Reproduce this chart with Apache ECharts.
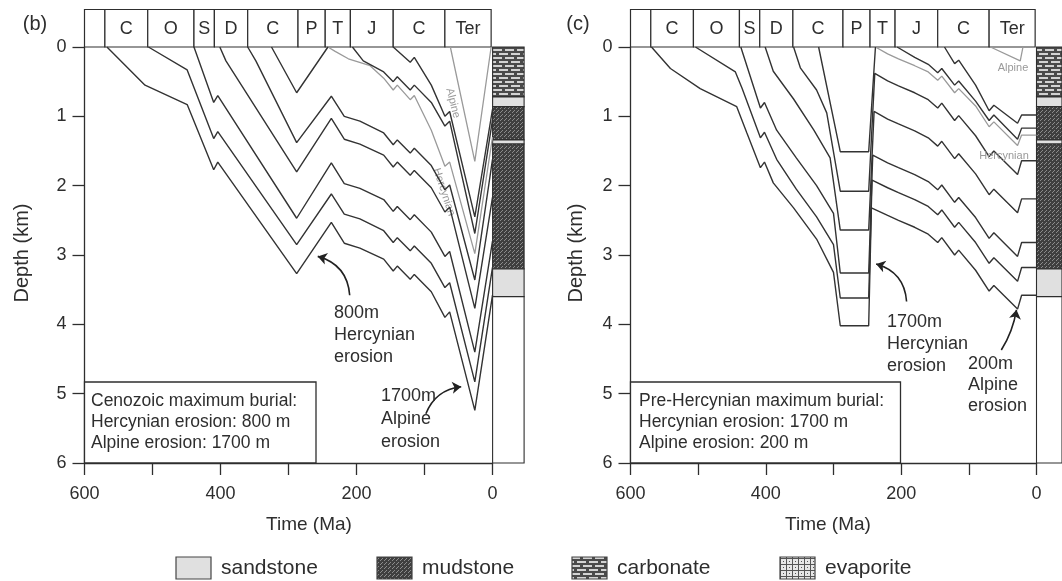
<!DOCTYPE html>
<html><head><meta charset="utf-8">
<script src="https://cdn.jsdelivr.net/npm/echarts@6/dist/echarts.min.js"></script>
<style>html,body{margin:0;padding:0;background:#fff}#c{width:1062px;height:581px}</style>
</head><body><div id="c"></div>
<script>
// ---------- data ----------
const periodBounds = [600, 570, 507, 439, 409, 360, 286, 246, 209, 146, 70, 2];
const periodNames = ['', 'C', 'O', 'S', 'D', 'C', 'P', 'T', 'J', 'C', 'Ter'];
const columnTop  = [0, 0.72, 0.86, 1.34, 1.40, 3.20, 3.60];
const columnBase = [0.72, 0.86, 1.34, 1.40, 3.20, 3.60, 6];
const columnLith = ['carbonate', 'sandstone', 'mudstone', 'sandstone', 'mudstone', 'sandstone', 'blank'];
const timeLabels = [0, 200, 400, 600];
const legendNames = ['sandstone', 'mudstone', 'carbonate', 'evaporite'];

// panel (b): Cenozoic maximum burial  [Ma, km]
const bA = [[567,0],[511,0.55],[449,0.83],[410,1.77],[404,1.66],[288,3.27],[237,2.53],[218,2.83],[195,2.9],[160,3.06],[146,3.23],[140,3.16],[121,3.35],[115,3.28],[90,3.53],[70,3.9],[63,3.82],[26,5.24],[0,3.58]];
const bB = [[506,0],[449,0.33],[410,1.32],[404,1.22],[288,2.85],[237,2.12],[218,2.41],[195,2.48],[160,2.65],[146,2.82],[140,2.75],[121,2.94],[115,2.87],[90,3.12],[70,3.47],[63,3.4],[26,4.83],[0,3.18]];
const bC = [[439,0],[410,0.8],[404,0.7],[288,2.47],[237,1.67],[218,1.97],[195,2.04],[160,2.2],[146,2.37],[140,2.3],[121,2.49],[115,2.42],[90,2.67],[70,3.02],[63,2.95],[26,4.4],[0,2.8]];
const bD = [[401,0],[392,0.2],[288,1.8],[237,1.03],[218,1.33],[195,1.4],[160,1.56],[146,1.73],[140,1.66],[121,1.85],[115,1.78],[90,2.03],[70,2.38],[63,2.31],[26,3.77],[0,2.17]];
const bE = [[360,0],[348,0.2],[288,1.38],[237,0.71],[218,1.0],[195,1.07],[160,1.24],[146,1.41],[140,1.34],[121,1.53],[115,1.46],[90,1.71],[70,2.06],[63,1.99],[26,3.36],[0,1.62]];
const bF = [[325,0],[288,0.66],[242,0]];
const bJ = [[206,0],[190,0.2],[160,0.36],[146,0.5],[140,0.43],[121,0.62],[115,0.55],[90,0.8],[70,1.14],[63,1.07],[26,2.69],[0,1.05]];
const bK = [[146,0],[121,0.22],[115,0.15],[90,0.55],[70,1.0],[63,0.93],[26,2.45],[0,0.9]];
const bTgrey = [[242,0],[232,0.06],[212,0.17],[180,0.27],[160,0.45],[146,0.62],[140,0.55],[121,0.76],[115,0.7],[90,1.2],[70,1.72],[63,1.66],[26,2.98],[0,1.3]];
const bAlpineGrey = [[62,0],[26,1.65],[2,0]];

// panel (c): Pre-Hercynian maximum burial  [Ma, km]
const cA = [[569,0],[541,0.31],[497,0.6],[443,0.86],[428,1.24],[408,1.74],[402,1.66],[389,1.96],[359,2.32],[325,2.77],[300,3.25],[290,4.02],[248,4.02],[244,2.32],[220,2.43],[204,2.5],[180,2.6],[160,2.7],[146,2.82],[140,2.75],[121,3.0],[115,2.93],[90,3.22],[70,3.52],[63,3.44],[28,3.78],[22,3.58],[0,3.58]];
const cB = [[504,0],[445,0.36],[435,0.6],[408,1.31],[402,1.23],[384,1.62],[355,2.05],[325,2.45],[300,2.85],[290,3.62],[248,3.62],[243,1.92],[220,2.03],[204,2.1],[180,2.2],[160,2.3],[146,2.42],[140,2.35],[121,2.6],[115,2.53],[90,2.82],[70,3.12],[63,3.04],[28,3.38],[22,3.18],[0,3.18]];
const cC = [[437,0],[408,0.88],[402,0.8],[384,1.2],[355,1.6],[325,2.0],[300,2.4],[290,3.26],[248,3.26],[242,1.56],[220,1.67],[204,1.74],[180,1.84],[160,1.94],[146,2.06],[140,1.99],[121,2.24],[115,2.17],[90,2.46],[70,2.76],[63,2.68],[28,3.02],[22,2.82],[0,2.82]];
const cD = [[401,0],[389,0.35],[359,0.75],[329,1.2],[305,1.6],[290,2.64],[248,2.64],[240,0.93],[220,1.04],[204,1.11],[180,1.21],[160,1.31],[146,1.43],[140,1.36],[121,1.61],[115,1.54],[90,1.83],[70,2.13],[63,2.05],[28,2.39],[22,2.19],[0,2.19]];
const cE = [[359,0],[349,0.3],[325,0.62],[310,0.95],[290,2.08],[248,2.08],[239,0.38],[220,0.49],[204,0.56],[180,0.66],[160,0.76],[146,0.88],[140,0.81],[121,1.06],[115,0.99],[90,1.28],[70,1.58],[63,1.5],[28,1.84],[22,1.64],[0,1.64]];
const cF = [[322,0],[290,1.51],[248,1.51],[238,0]];
const cJ = [[206,0],[180,0.15],[160,0.25],[146,0.37],[140,0.31],[121,0.55],[115,0.49],[90,0.78],[70,1.06],[63,0.98],[28,1.33],[22,1.17],[0,1.17]];
const cK = [[136,0],[121,0.24],[115,0.19],[90,0.55],[70,0.92],[63,0.84],[28,1.1],[22,0.98],[0,0.98]];
const cTgrey = [[238,0],[220,0.1],[204,0.17],[180,0.27],[160,0.36],[146,0.48],[140,0.42],[121,0.66],[115,0.6],[90,0.85],[70,1.15],[63,1.08],[28,1.42],[22,1.27],[0,1.27]];
const cAlpineGrey = [[68,0],[24,0.2],[20,0]];

// annotation arrows [from, to] in [Ma, km]
const bArrowHerc = [[210,3.58],[257,3.02]];
const bArrowAlp  = [[98,5.29],[46,4.9]];
const cArrowHerc = [[192,3.67],[237,3.13]];
const cArrowAlp  = [[52,4.37],[29.6,3.79]];

// ---------- patterns ----------
function pat(type){
  const cv = document.createElement('canvas');
  if (type === 'mudstone'){
    cv.width = 4; cv.height = 4; const g = cv.getContext('2d');
    g.fillStyle = '#3f3f3f'; g.fillRect(0,0,4,4);
    g.fillStyle = '#8c8c8c'; g.fillRect(0,0,1,1); g.fillRect(2,2,1,1); g.fillRect(1,3,1,1);
  } else if (type === 'carbonate'){
    cv.width = 12; cv.height = 8; const g = cv.getContext('2d');
    g.fillStyle = '#4a4a4a'; g.fillRect(0,0,12,8);
    g.fillStyle = '#d2d2d2'; g.fillRect(1,1,9,2); g.fillRect(7,5,5,2); g.fillRect(0,5,4,2);
  } else if (type === 'evaporite'){
    cv.width = 6; cv.height = 6; const g = cv.getContext('2d');
    g.fillStyle = '#e6e6e6'; g.fillRect(0,0,6,6);
    g.fillStyle = '#555'; g.fillRect(0,0,6,1); g.fillRect(0,0,1,6);
    g.fillRect(3,3,1,1);
  } else if (type === 'sandstone'){
    cv.width = 4; cv.height = 4; const g = cv.getContext('2d');
    g.fillStyle = '#e0e0e0'; g.fillRect(0,0,4,4);
  } else {
    cv.width = 2; cv.height = 2; const g = cv.getContext('2d');
    g.fillStyle = '#fff'; g.fillRect(0,0,2,2);
  }
  return {image: cv, repeat: 'repeat'};
}
const fills = {};
['mudstone','carbonate','evaporite','sandstone','blank'].forEach(k => fills[k] = pat(k));

// ---------- layout ----------
const FONT = 'Liberation Sans, Arial, sans-serif';
const INK = '#2e2e2e';
const panels = [
  {left: 84.5, width: 408, colLeft: 492.6,
   black: [bA,bB,bC,bD,bE,bF,bJ,bK], grey: [bTgrey, bAlpineGrey], arrows: [bArrowHerc, bArrowAlp], curv: [-0.35, 0.3]},
  {left: 630.5, width: 406, colLeft: 1036.5,
   black: [cA,cB,cC,cD,cE,cF,cJ,cK], grey: [cTgrey, cAlpineGrey], arrows: [cArrowHerc, cArrowAlp], curv: [-0.35, -0.1]}
];
const TOP = 47, H = 416;

const grid = [], xAxis = [], yAxis = [], series = [];
panels.forEach((p, pi) => {
  const g0 = grid.length;
  grid.push({left: p.left, top: TOP, width: p.width, height: H, show: false});
  grid.push({left: p.left, top: 9.5, width: p.width, height: TOP - 9.5, show: false});
  grid.push({left: p.colLeft, top: TOP, width: 31.5, height: H, show: false});
  const x0 = xAxis.length, y0 = yAxis.length;
  xAxis.push({gridIndex: g0, type: 'value', min: 0, max: 600, interval: 100, inverse: true,
    axisLine: {show: true, onZero: false, lineStyle: {color: INK, width: 1.3}},
    axisTick: {show: true, length: 12, lineStyle: {color: INK, width: 1.3}},
    axisLabel: {margin: 22, fontSize: 18, fontFamily: FONT, color: INK,
      formatter: v => (timeLabels.indexOf(v) >= 0 ? String(v) : '')},
    splitLine: {show: false}});
  xAxis.push({gridIndex: g0 + 1, type: 'value', min: 0, max: 600, inverse: true, show: false});
  xAxis.push({gridIndex: g0 + 2, type: 'value', min: 0, max: 1, show: false});
  yAxis.push({gridIndex: g0, type: 'value', min: 0, max: 6, interval: 1, inverse: true,
    axisLine: {show: true, onZero: false, lineStyle: {color: INK, width: 1.3}},
    axisTick: {show: true, length: 12, lineStyle: {color: INK, width: 1.3}},
    axisLabel: {margin: 18, fontSize: 18, fontFamily: FONT, color: INK},
    splitLine: {show: false}});
  yAxis.push({gridIndex: g0 + 1, type: 'value', min: 0, max: 1, show: false});
  yAxis.push({gridIndex: g0 + 2, type: 'value', min: 0, max: 6, inverse: true, show: false});

  // period strip
  const strip = [];
  for (let i = 0; i < periodBounds.length - 1; i++) strip.push([periodBounds[i], periodBounds[i + 1]]);
  series.push({type: 'custom', xAxisIndex: x0 + 1, yAxisIndex: y0 + 1, data: strip, silent: true, clip: false,
    encode: {x: [0, 1]},
    renderItem: (params, api) => {
      const a = api.coord([api.value(0), 1]), b = api.coord([api.value(1), 0]);
      const x = Math.min(a[0], b[0]), y = Math.min(a[1], b[1]);
      const w = Math.abs(b[0] - a[0]), h = Math.abs(b[1] - a[1]);
      return {type: 'group', children: [
        {type: 'rect', shape: {x, y, width: w, height: h}, style: {fill: '#fff', stroke: INK, lineWidth: 1.2}},
        {type: 'text', style: {text: periodNames[params.dataIndex], x: x + w / 2, y: y + h / 2 + 1,
          align: 'center', verticalAlign: 'middle', font: '18px ' + FONT, fill: INK}}
      ]};
    }});

  // stratigraphic column
  const col = columnTop.map((t, i) => [t, columnBase[i]]);
  series.push({type: 'custom', xAxisIndex: x0 + 2, yAxisIndex: y0 + 2, data: col, silent: true, clip: false,
    encode: {y: [0, 1]},
    renderItem: (params, api) => {
      const a = api.coord([0, api.value(0)]), b = api.coord([1, api.value(1)]);
      return {type: 'rect', shape: {x: a[0], y: a[1], width: b[0] - a[0], height: b[1] - a[1]},
        style: {fill: fills[columnLith[params.dataIndex]], stroke: INK, lineWidth: 1.1}};
    }});

  // burial curves
  p.black.forEach(d => series.push({type: 'line', xAxisIndex: x0, yAxisIndex: y0, data: d, symbol: 'none',
    silent: true, lineStyle: {color: '#333', width: 1.4}, z: 3}));
  p.grey.forEach(d => series.push({type: 'line', xAxisIndex: x0, yAxisIndex: y0, data: d, symbol: 'none',
    silent: true, lineStyle: {color: '#9a9a9a', width: 1.3}, z: 2}));

  // arrows
  p.arrows.forEach((ar, k) => series.push({type: 'lines', coordinateSystem: 'cartesian2d', xAxisIndex: x0, yAxisIndex: y0,
    data: [{coords: ar}], symbol: ['none', 'arrow'], symbolSize: 9, silent: true, z: 4,
    lineStyle: {color: '#222', width: 1.6, curveness: p.curv[k], opacity: 1}}));
});

// ---------- static text / boxes ----------
const txt = (t, x, y, o, z) => ({type: 'text', x, y, z: z || 10, style: Object.assign({text: t, font: '18px ' + FONT, fill: INK}, o || {})});
const graphic = [
  txt('(b)', 35, 24, {align: 'center', verticalAlign: 'middle', font: '20px ' + FONT}),
  txt('(c)', 578, 24, {align: 'center', verticalAlign: 'middle', font: '20px ' + FONT}),
  {type: 'text', x: 22, y: 253, rotation: Math.PI / 2, style: {text: 'Depth (km)', font: '20px ' + FONT, fill: INK, align: 'center', verticalAlign: 'middle'}},
  {type: 'text', x: 576, y: 253, rotation: Math.PI / 2, style: {text: 'Depth (km)', font: '20px ' + FONT, fill: INK, align: 'center', verticalAlign: 'middle'}},
  txt('Time (Ma)', 309, 525, {align: 'center', verticalAlign: 'middle', font: '19px ' + FONT}),
  txt('Time (Ma)', 828, 525, {align: 'center', verticalAlign: 'middle', font: '19px ' + FONT}),
  // info boxes
  {type: 'rect', z: 5, shape: {x: 84.5, y: 382, width: 231.5, height: 81}, style: {fill: '#fff', stroke: INK, lineWidth: 1.3}},
  txt('Cenozoic maximum burial:\nHercynian erosion: 800 m\nAlpine erosion: 1700 m', 91, 391, {font: '17.5px ' + FONT, lineHeight: 21}),
  {type: 'rect', z: 5, shape: {x: 630.5, y: 382, width: 270, height: 81}, style: {fill: '#fff', stroke: INK, lineWidth: 1.3}},
  txt('Pre-Hercynian maximum burial:\nHercynian erosion: 1700 m\nAlpine erosion: 200 m', 639, 391, {font: '17.5px ' + FONT, lineHeight: 21}),
  // annotations
  txt('800m\nHercynian\nerosion', 334, 302, {lineHeight: 22}),
  txt('1700m\nAlpine\nerosion', 381, 385, {lineHeight: 23}),
  txt('1700m\nHercynian\nerosion', 887, 311, {lineHeight: 22}),
  txt('200m\nAlpine\nerosion', 968, 354, {lineHeight: 21}),
  // grey labels
  {type: 'text', x: 453, y: 103, rotation: -1.32, style: {text: 'Alpine', font: '11px ' + FONT, fill: '#999', align: 'center', verticalAlign: 'middle'}},
  {type: 'text', x: 444, y: 192, rotation: -1.25, style: {text: 'Hercynian', font: '11px ' + FONT, fill: '#999', align: 'center', verticalAlign: 'middle'}},
  txt('Alpine', 1013, 68, {font: '11px ' + FONT, fill: '#999', align: 'center', verticalAlign: 'middle'}),
  txt('Hercynian', 1004, 156, {font: '11px ' + FONT, fill: '#999', align: 'center', verticalAlign: 'middle'})
];
// legend
const legendX = [176, 377, 572, 780];
legendNames.forEach((n, i) => {
  graphic.push({type: 'rect', shape: {x: legendX[i], y: 557, width: 35, height: 22}, style: {fill: fills[n], stroke: '#444', lineWidth: 1.2}});
  graphic.push(txt(n, legendX[i] + 45, 568, {verticalAlign: 'middle', font: '21px ' + FONT}));
});

const chart = echarts.init(document.getElementById('c'), null, {renderer: 'canvas'});
chart.setOption({animation: false, backgroundColor: '#fff', grid, xAxis, yAxis, series, graphic});
</script></body></html>
